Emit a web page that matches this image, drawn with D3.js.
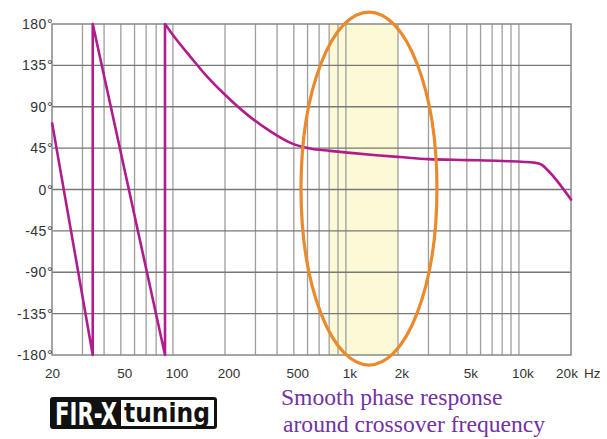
<!DOCTYPE html>
<html>
<head>
<meta charset="utf-8">
<script src="https://cdn.jsdelivr.net/npm/d3@7"></script>
<style>
  html, body { margin: 0; padding: 0; background: #ffffff; }
  svg { display: block; }
</style>
</head>
<body>
<svg id="chart" width="607" height="439"></svg>
<script>
// ---- data ----
const phaseTicks = [180, 135, 90, 45, 0, -45, -90, -135, -180];
const phaseTickLabels = ["180°", "135°", "90°", "45°", "0°", "-45°", "-90°", "-135°", "-180°"];
const freqTicks = [20, 50, 100, 200, 500, 1000, 2000, 5000, 10000, 20000];
const freqTickLabels = ["20", "50", "100", "200", "500", "1k", "2k", "5k", "10k", "20k"];
const freqUnit = "Hz";

// wrapped (sawtooth) part of the phase curve
const wrapFreq  = [20, 34.4, 34.4, 90, 90];
const wrapPhase = [73, -180, 180, -180, 180];
// smooth part of the phase curve
const smoothFreq  = [90, 100, 126, 153, 200, 279, 364, 475, 620, 810, 1060, 1500, 2050, 3000, 5000, 8000, 12500, 13500, 15000, 20000];
const smoothPhase = [180, 168, 144.5, 125.5, 103, 79, 63.5, 51, 44.5, 42, 39.8, 37.3, 35.3, 33, 32, 31, 29, 27, 19, -11];

// crossover highlight band (Hz)
const bandFreq = [800, 2000];
// annotation ellipse extent (Hz, degrees)
const ellipseFreq = [550, 3360];
const ellipsePhase = [193, -191];

const captionLines = ["Smooth phase response", "around crossover frequency"];
const logoParts = ["FIR-X", "tuning"];

// ---- chart ----
const svg = d3.select("#chart");
const mLeft = 52, mRight = 571, mTop = 24, mBottom = 355;

const x = d3.scaleLog().domain([20, 20000]).range([mLeft, mRight]);
const y = d3.scaleLinear().domain([-180, 180]).range([mBottom, mTop]);

// band
svg.append("rect")
  .attr("x", x(bandFreq[0])).attr("y", mTop)
  .attr("width", x(bandFreq[1]) - x(bandFreq[0]))
  .attr("height", mBottom - mTop)
  .attr("fill", "#fcf9d6");

// vertical grid (log)
const vGrid = [];
[10, 100, 1000, 10000].forEach(dec => {
  for (let k = 1; k <= 9; k++) {
    const f = dec * k;
    if (f > 20 && f < 20000) vGrid.push(f);
  }
});
svg.append("g").selectAll("line").data(vGrid).join("line")
  .attr("x1", d => x(d)).attr("x2", d => x(d))
  .attr("y1", mTop).attr("y2", mBottom)
  .attr("stroke", "#9e9e9e").attr("stroke-width", 1.3);

// horizontal grid
svg.append("g").selectAll("line").data(phaseTicks.slice(1, -1)).join("line")
  .attr("x1", mLeft).attr("x2", mRight)
  .attr("y1", d => y(d)).attr("y2", d => y(d))
  .attr("stroke", "#777").attr("stroke-width", 1.3);

// frame
svg.append("rect")
  .attr("x", mLeft).attr("y", mTop)
  .attr("width", mRight - mLeft).attr("height", mBottom - mTop)
  .attr("fill", "none").attr("stroke", "#888").attr("stroke-width", 1.5);

// curves
const lineColor = "#b01c8e";
const wrapLine = d3.line().x(d => x(d[0])).y(d => y(d[1]));
svg.append("path")
  .datum(wrapFreq.map((f, i) => [f, wrapPhase[i]]))
  .attr("d", wrapLine)
  .attr("fill", "none").attr("stroke", lineColor)
  .attr("stroke-width", 2.6).attr("stroke-linejoin", "round");

const smoothLine = d3.line().x(d => x(d[0])).y(d => y(d[1])).curve(d3.curveMonotoneX);
svg.append("path")
  .datum(smoothFreq.map((f, i) => [f, smoothPhase[i]]))
  .attr("d", smoothLine)
  .attr("fill", "none").attr("stroke", lineColor)
  .attr("stroke-width", 2.6).attr("stroke-linejoin", "round").attr("stroke-linecap", "round");

// ellipse annotation
const ex0 = x(ellipseFreq[0]), ex1 = x(ellipseFreq[1]);
const ey0 = y(ellipsePhase[0]), ey1 = y(ellipsePhase[1]);
svg.append("ellipse")
  .attr("cx", (ex0 + ex1) / 2).attr("cy", (ey0 + ey1) / 2)
  .attr("rx", (ex1 - ex0) / 2).attr("ry", (ey1 - ey0) / 2)
  .attr("fill", "none").attr("stroke", "#e98a2c").attr("stroke-width", 3.2);

// y labels
svg.append("g").selectAll("text").data(phaseTicks).join("text")
  .attr("x", mLeft + 1).attr("y", d => y(d) + 5)
  .attr("text-anchor", "end")
  .attr("font-family", "Liberation Sans, Arial, sans-serif")
  .attr("font-size", 14).attr("fill", "#333")
  .attr("letter-spacing", 0.5)
  .text((d, i) => phaseTickLabels[i]);

// x labels
svg.append("g").selectAll("text").data(freqTicks).join("text")
  .attr("x", (d, i) => x(d) + (i === 0 ? 0.5 : (i === freqTicks.length - 1 ? -4 : 4)))
  .attr("y", 378)
  .attr("text-anchor", "middle")
  .attr("font-family", "Liberation Sans, Arial, sans-serif")
  .attr("font-size", 13.5).attr("fill", "#333")
  .text((d, i) => freqTickLabels[i]);
svg.append("text")
  .attr("x", x(20000) + 13).attr("y", 378)
  .attr("font-family", "Liberation Sans, Arial, sans-serif")
  .attr("font-size", 13.5).attr("fill", "#333")
  .text(freqUnit);

// logo
const logo = svg.append("g");
logo.append("rect").attr("x", 50).attr("y", 397).attr("width", 167).attr("height", 32)
  .attr("rx", 3).attr("fill", "#111");
logo.append("rect").attr("x", 121).attr("y", 400).attr("width", 93).attr("height", 26)
  .attr("fill", "#fff");
function fitText(g, str, tx, ty, targetW, size, color) {
  const t = g.append("text").attr("x", 0).attr("y", 0)
    .attr("font-family", "Liberation Sans Narrow, DejaVu Sans Condensed, Arial, sans-serif")
    .attr("font-weight", "bold").attr("font-size", size).attr("fill", color)
    .text(str);
  const w = t.node().getComputedTextLength();
  t.attr("transform", `translate(${tx},${ty}) scale(${targetW / w},1)`);
}
fitText(logo, logoParts[0], 55, 425, 62, 32, "#fff");
fitText(logo, logoParts[1], 124, 422, 86, 27, "#111");

// caption
const cap = svg.append("g")
  .attr("font-family", "Liberation Serif, Times New Roman, serif")
  .attr("font-size", 23.6).attr("fill", "#7232a3");
cap.append("text").attr("x", 281).attr("y", 405).text(captionLines[0]);
cap.append("text").attr("x", 283).attr("y", 432).text(captionLines[1]);
</script>
</body>
</html>
